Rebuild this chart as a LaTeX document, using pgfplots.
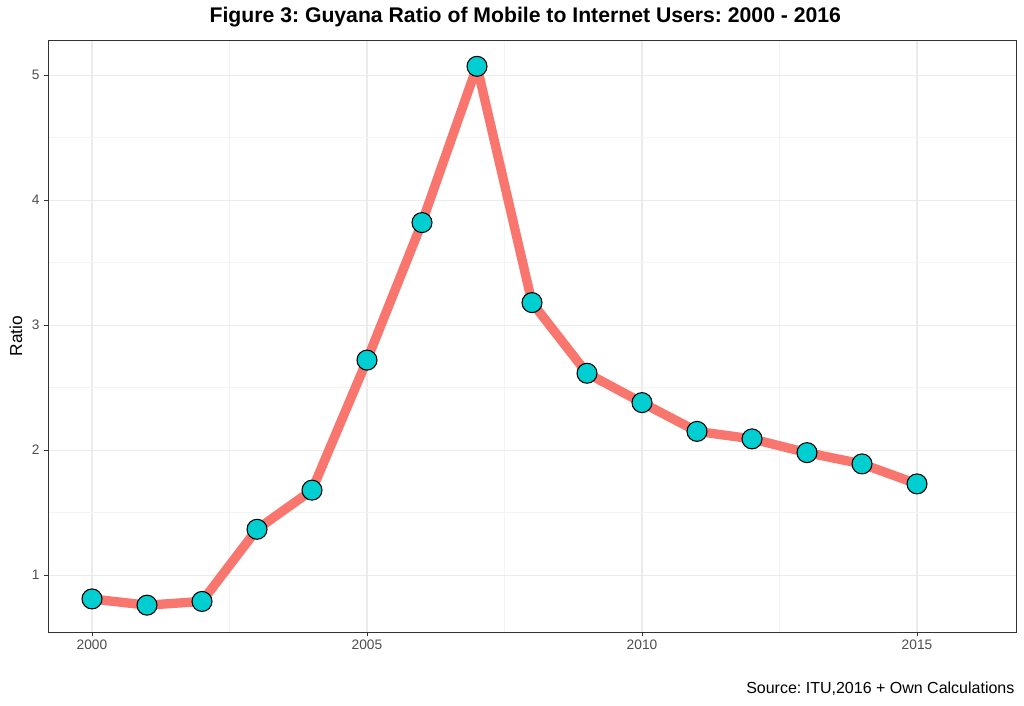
\documentclass[border=0pt]{standalone}
\usepackage{pgfplots}
\pgfplotsset{compat=1.18}
\usepackage{fontspec}
\setmainfont{Liberation Sans}
\frenchspacing
\definecolor{linered}{HTML}{F8766D}
\definecolor{ptcyan}{HTML}{00CED1}
\definecolor{gridmaj}{HTML}{EBEBEB}
\definecolor{gridmin}{HTML}{F4F4F4}
\definecolor{tickgrey}{HTML}{4D4D4D}
\definecolor{framegrey}{HTML}{333333}
\begin{document}
\begin{tikzpicture}
\useasboundingbox (-36pt,-55.5pt) rectangle (732pt,474pt);
\begin{axis}[
  scale only axis,
  width=726pt, height=444pt,
  at={(0,0)}, anchor=south west,
  xmin=1999.2, xmax=2016.8,
  ymin=0.5455, ymax=5.2805,
  xtick={2000,2005,2010,2015},
  minor xtick={2002.5,2007.5,2012.5},
  ytick={1,2,3,4,5},
  minor ytick={1.5,2.5,3.5,4.5},
  xticklabel style={/pgf/number format/1000 sep={}, font=\fontsize{10.3pt}{12pt}\selectfont, text=tickgrey},
  yticklabel style={font=\fontsize{10.3pt}{12pt}\selectfont, text=tickgrey},
  /pgf/number format/assume math mode=true,
  grid=both,
  major grid style={draw=gridmaj, line width=0.8pt},
  minor grid style={draw=gridmin, line width=0.4pt},
  tick align=outside,
  major tick length=2.75pt,
  minor tick length=0pt,
  tick style={draw=framegrey, line width=0.6pt},
  axis line style={draw=framegrey, line width=0.6pt},
  xtick pos=bottom, ytick pos=left,
  clip=false,
]
\addplot[color=linered, line width=7pt, line join=round, line cap=round,
  mark=*, mark size=7.5pt, mark options={fill=ptcyan, draw=black, line width=0.8pt}]
coordinates {
(2000,0.81) (2001,0.76) (2002,0.79) (2003,1.367) (2004,1.68)
(2005,2.72) (2006,3.82) (2007,5.07) (2008,3.18) (2009,2.615)
(2010,2.38) (2011,2.15) (2012,2.09) (2013,1.98) (2014,1.89) (2015,1.73)
};
\end{axis}
\node[font=\fontsize{13pt}{15pt}\selectfont, rotate=90, anchor=center] at (-24pt,222pt) {Ratio};
\node[font=\bfseries\fontsize{15.9pt}{18pt}\selectfont, anchor=center] at (358pt,461pt) {Figure 3: Guyana Ratio of Mobile to Internet Users: 2000 - 2016};
\node[font=\fontsize{12pt}{14pt}\selectfont, anchor=base east, inner sep=0pt] at (725pt,-46.5pt) {Source: ITU,2016 + Own Calculations};
\end{tikzpicture}
\end{document}
